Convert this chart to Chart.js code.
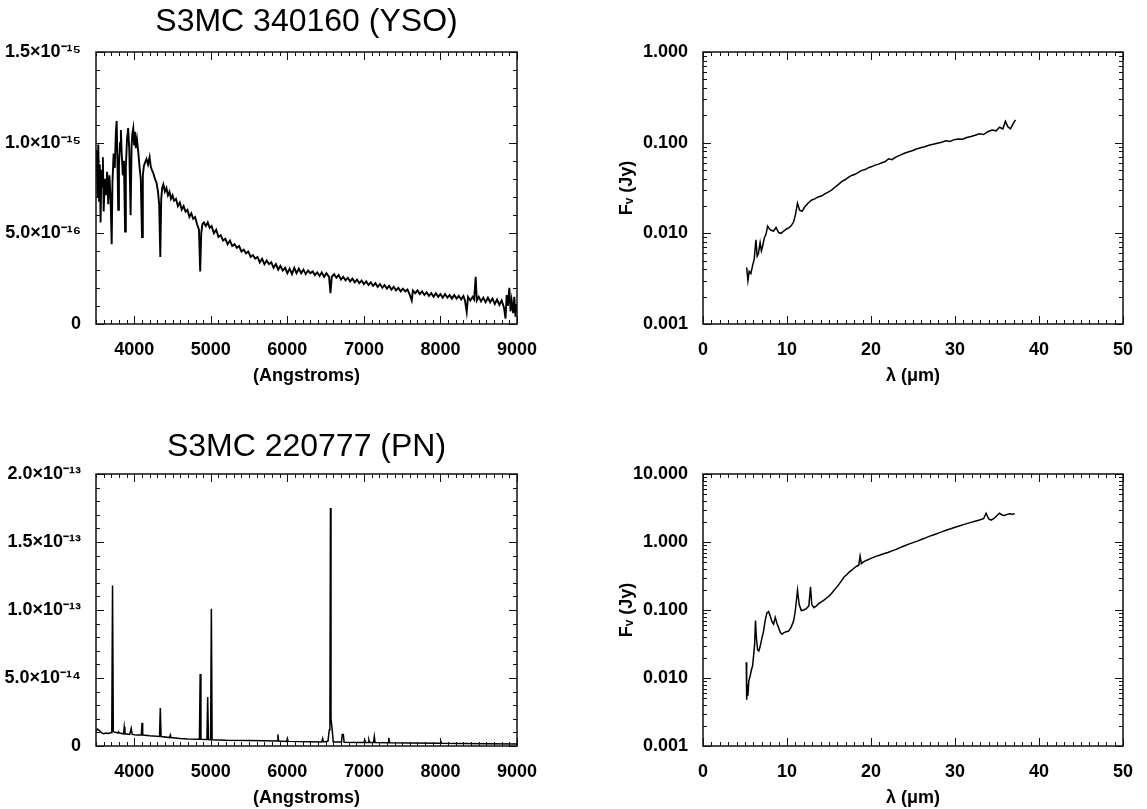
<!DOCTYPE html>
<html>
<head>
<meta charset="utf-8">
<title>S3MC 340160 / S3MC 220777 spectra</title>
<script src="https://cdn.jsdelivr.net/npm/chart.js@4/dist/chart.umd.min.js"></script>
<style>
  html, body { margin: 0; padding: 0; background: #fff; }
  #page { position: relative; width: 1147px; height: 809px; overflow: hidden; }
  #page canvas { position: absolute; }
</style>
</head>
<body>
<div id="page">
  <canvas id="yso-opt" width="560" height="400" style="left:0;top:0"></canvas>
  <canvas id="yso-ir" width="587" height="400" style="left:560px;top:0"></canvas>
  <canvas id="pn-opt" width="560" height="409" style="left:0;top:400px"></canvas>
  <canvas id="pn-ir" width="587" height="409" style="left:560px;top:400px"></canvas>
</div>
<script>
/* ── Data ─────────────────────────────────────────────────────────────────
 * Optical fluxes are kept in scaled units (YSO: 1e-16, PN: 1e-14),
 * infrared fluxes in Jy, wavelengths in Angstroms / microns.
 * ──────────────────────────────────────────────────────────────────────── */

// S3MC 340160 (YSO), optical spectrum
var YSO_OPT_WAVE = [
  3500, 3510, 3520, 3530, 3540, 3550, 3560, 3570, 3580, 3590,
  3600, 3615, 3630, 3645, 3660, 3675, 3690, 3705, 3715, 3730,
  3745, 3760, 3770, 3780, 3790, 3800, 3815, 3825, 3835, 3850,
  3865, 3880, 3890, 3905, 3920, 3935, 3952, 3965, 3975, 3987,
  3998, 4009, 4020, 4035, 4052, 4070, 4085, 4101, 4112, 4125,
  4140, 4160, 4180, 4200, 4215, 4230, 4250, 4270, 4290, 4310,
  4325, 4340, 4352, 4365, 4380, 4400, 4420, 4440, 4460, 4480,
  4500, 4520, 4545, 4570, 4595, 4620, 4645, 4670, 4695, 4720,
  4745, 4770, 4795, 4820, 4845, 4861, 4875, 4890, 4910, 4935,
  4960, 4985, 5010, 5040, 5070, 5100, 5130, 5160, 5190, 5220,
  5250, 5280, 5310, 5340, 5370, 5400, 5430, 5460, 5490, 5520,
  5550, 5580, 5610, 5640, 5670, 5700, 5730, 5760, 5790, 5820,
  5850, 5880, 5910, 5940, 5970, 6000, 6030, 6060, 6090, 6120,
  6150, 6180, 6210, 6240, 6270, 6300, 6330, 6360, 6390, 6420,
  6450, 6480, 6510, 6545, 6563, 6580, 6610, 6640, 6670, 6700,
  6730, 6760, 6790, 6820, 6850, 6880, 6910, 6940, 6970, 7000,
  7030, 7060, 7090, 7120, 7150, 7180, 7210, 7240, 7270, 7300,
  7330, 7360, 7390, 7420, 7450, 7480, 7510, 7540, 7570, 7600,
  7625, 7640, 7670, 7700, 7730, 7760, 7790, 7820, 7850, 7880,
  7910, 7940, 7970, 8000, 8030, 8060, 8090, 8120, 8150, 8180,
  8210, 8240, 8270, 8300, 8320, 8343, 8360, 8390, 8420, 8440,
  8460, 8475, 8500, 8530, 8560, 8590, 8620, 8650, 8680, 8710,
  8740, 8770, 8800, 8830, 8850, 8865, 8880, 8900, 8915, 8930,
  8950, 8965, 8980, 8995
];
var YSO_OPT_FLUX = [
  8.2, 9.6, 7.0, 9.9, 6.8, 8.8, 5.6, 8.5, 7.6, 9.2,
  6.2, 8.0, 7.1, 8.4, 6.6, 8.2, 7.0, 4.4, 7.8, 9.4,
  8.6, 10.6, 11.2, 9.0, 6.3, 8.8, 10.0, 10.7, 9.5, 8.2,
  9.0, 5.1, 8.6, 10.2, 10.8, 9.6, 6.0, 9.8, 10.5, 10.8,
  9.9, 10.6, 9.7, 10.2, 9.5, 8.6, 8.0, 4.8, 8.2, 8.7,
  8.9, 9.1, 8.8, 9.2, 8.7, 8.5, 8.3, 8.0, 7.8, 7.3,
  6.6, 3.7, 6.9, 7.5, 7.7, 7.3, 7.5, 7.1, 7.3, 6.9,
  7.1, 6.8, 6.9, 6.5, 6.7, 6.3, 6.5, 6.2, 6.3, 5.9,
  6.1, 5.8, 5.9, 5.5, 5.2, 2.9, 5.0, 5.5, 5.6, 5.4,
  5.6, 5.3, 5.4, 5.0, 5.2, 4.8, 4.9, 4.6, 4.7, 4.4,
  4.6, 4.3, 4.4, 4.2, 4.3, 4.0, 4.1, 3.9, 4.0, 3.7,
  3.8, 3.6, 3.7, 3.4, 3.6, 3.3, 3.5, 3.3, 3.4, 3.1,
  3.3, 3.0, 3.2, 2.95, 3.1, 2.8, 3.05, 2.75, 3.1, 2.8,
  3.05, 2.8, 3.0, 2.75, 2.95, 2.8, 2.9, 2.7, 2.85, 2.65,
  2.85, 2.6, 2.8, 2.6, 1.7, 2.6, 2.75, 2.55, 2.7, 2.45,
  2.6, 2.4, 2.55, 2.35, 2.5, 2.3, 2.45, 2.25, 2.4, 2.2,
  2.35, 2.15, 2.3, 2.1, 2.25, 2.05, 2.2, 2.0, 2.15, 1.95,
  2.1, 1.9, 2.05, 1.85, 2.0, 1.8, 1.95, 1.8, 1.9, 1.6,
  1.3, 1.85, 1.7, 1.85, 1.65, 1.8, 1.6, 1.75, 1.55, 1.7,
  1.5, 1.7, 1.5, 1.65, 1.45, 1.65, 1.45, 1.6, 1.4, 1.6,
  1.4, 1.55, 1.35, 1.55, 1.3, 0.66, 1.5, 1.3, 1.5, 1.35,
  2.6, 1.3, 1.5, 1.25, 1.45, 1.2, 1.45, 1.2, 1.4, 1.1,
  1.35, 1.05, 1.3, 0.9, 0.3, 1.6, 1.0, 2.0, 0.7, 1.3,
  0.6, 1.5, 0.4, 1.1
];

// S3MC 340160 (YSO), infrared spectrum
var YSO_IR_WAVE = [
  5.2, 5.35, 5.5, 5.7, 5.9, 6.1, 6.3, 6.45, 6.6, 6.8,
  6.95, 7.1, 7.3, 7.5, 7.7, 7.9, 8.1, 8.4, 8.7, 9.0,
  9.3, 9.6, 9.9, 10.2, 10.5, 10.8, 11.0, 11.25, 11.5, 11.8,
  12.1, 12.5, 12.9, 13.3, 13.7, 14.1, 14.5, 14.9, 15.3, 15.7,
  16.1, 16.5, 16.9, 17.3, 17.7, 18.1, 18.5, 18.9, 19.3, 19.7,
  20.1, 20.5, 20.9, 21.3, 21.7, 22.1, 22.5, 22.9, 23.4, 23.9,
  24.4, 24.9, 25.4, 25.9, 26.4, 26.9, 27.4, 27.9, 28.4, 28.9,
  29.4, 29.9, 30.4, 30.9, 31.4, 31.9, 32.4, 32.9, 33.4, 33.9,
  34.4, 34.9, 35.3, 35.7, 36.0, 36.3, 36.6, 36.9, 37.2
];
var YSO_IR_FLUX = [
  0.0042, 0.0030, 0.0038, 0.0036, 0.0044, 0.0052, 0.0085, 0.0056, 0.0060, 0.0079,
  0.0064, 0.0072, 0.0089, 0.0098, 0.0120, 0.0112, 0.0108, 0.0106, 0.0116, 0.0102,
  0.0100, 0.0106, 0.0111, 0.0115, 0.0121, 0.0135, 0.0160, 0.0215, 0.0180, 0.0175,
  0.0195, 0.0215, 0.0232, 0.0240, 0.0252, 0.0258, 0.0272, 0.0285, 0.0300, 0.0322,
  0.0345, 0.0372, 0.0390, 0.0415, 0.0435, 0.0448, 0.0470, 0.0495, 0.0505, 0.0530,
  0.0545, 0.0565, 0.0580, 0.0600, 0.0620, 0.0665, 0.0650, 0.0690, 0.0725, 0.0760,
  0.0790, 0.0815, 0.0850, 0.0880, 0.0900, 0.0935, 0.0960, 0.0985, 0.1010, 0.1050,
  0.1030, 0.1080, 0.1100, 0.1090, 0.1140, 0.1170, 0.1210, 0.1250, 0.1230, 0.1320,
  0.1380, 0.1350, 0.1480, 0.1420, 0.1720, 0.1500, 0.1420, 0.1600, 0.1780
];

// S3MC 220777 (PN), optical spectrum
var PN_OPT_WAVE = [
  3500, 3520, 3540, 3560, 3580, 3600, 3630, 3660, 3690, 3706,
  3716, 3726, 3760, 3785, 3795, 3805, 3860, 3869, 3878, 3940,
  3960, 3972, 4030, 4092, 4101, 4110, 4200, 4330, 4340, 4350,
  4462, 4471, 4480, 4600, 4700, 4851, 4861, 4871, 4949, 4959,
  4969, 4997, 5007, 5017, 5200, 5500, 5700, 5866, 5876, 5886,
  5990, 6000, 6010, 6300, 6450, 6461, 6472, 6530, 6548, 6556,
  6563, 6570, 6584, 6600, 6707, 6717, 6731, 6741, 7000, 7010,
  7020, 7060, 7065, 7075, 7126, 7136, 7146, 7315, 7325, 7335,
  7600, 7996, 8006, 8016, 8300, 8600, 9000
];
var PN_OPT_FLUX = [
  1.10, 1.25, 1.15, 1.05, 0.95, 0.90, 0.95, 0.92, 0.98, 0.98,
  11.8, 1.05, 1.00, 0.95, 1.05, 0.95, 0.90, 1.40, 0.90, 0.85,
  1.30, 0.85, 0.80, 0.80, 1.70, 0.80, 0.75, 0.70, 2.80, 0.70,
  0.62, 0.80, 0.62, 0.55, 0.52, 0.50, 5.30, 0.50, 0.48, 3.60,
  0.48, 0.47, 10.1, 0.46, 0.42, 0.40, 0.38, 0.36, 0.85, 0.36,
  0.34, 0.55, 0.34, 0.32, 0.30, 0.55, 0.30, 0.35, 1.20, 2.00,
  17.5, 2.00, 1.30, 0.30, 0.30, 0.85, 0.85, 0.28, 0.26, 0.45,
  0.26, 0.26, 0.45, 0.26, 0.26, 0.70, 0.25, 0.24, 0.60, 0.24,
  0.22, 0.20, 0.32, 0.20, 0.18, 0.16, 0.14
];

// S3MC 220777 (PN), infrared spectrum
var PN_IR_WAVE = [
  5.15, 5.2, 5.28, 5.35, 5.45, 5.6, 5.75, 5.9, 6.05, 6.15,
  6.25, 6.35, 6.5, 6.65, 6.8, 7.0, 7.2, 7.4, 7.6, 7.8,
  8.0, 8.2, 8.4, 8.6, 8.8, 9.0, 9.2, 9.4, 9.6, 9.9,
  10.2, 10.5, 10.8, 11.0, 11.25, 11.45, 11.7, 12.0, 12.3, 12.6,
  12.8, 12.95, 13.2, 13.5, 13.8, 14.1, 14.4, 14.7, 15.0, 15.3,
  15.6, 15.9, 16.2, 16.5, 16.8, 17.1, 17.4, 17.7, 18.0, 18.3,
  18.55, 18.7, 18.85, 19.1, 19.5, 20.0, 20.5, 21.0, 21.5, 22.0,
  22.5, 23.0, 23.5, 24.0, 24.5, 25.0, 25.5, 26.0, 26.5, 27.0,
  27.5, 28.0, 28.5, 29.0, 29.5, 30.0, 30.5, 31.0, 31.5, 32.0,
  32.5, 33.0, 33.4, 33.7, 34.0, 34.3, 34.6, 35.0, 35.3, 35.6,
  35.9, 36.2, 36.5, 36.8, 37.1
];
var PN_IR_FLUX = [
  0.0170, 0.0048, 0.0080, 0.0055, 0.0090, 0.0105, 0.0130, 0.0150, 0.0230, 0.0320,
  0.0700, 0.0400, 0.0260, 0.0250, 0.0290, 0.0380, 0.0480, 0.0700, 0.0900, 0.0950,
  0.0820, 0.0680, 0.0620, 0.0780, 0.0640, 0.0550, 0.0470, 0.0440, 0.0460, 0.0480,
  0.0490, 0.0560, 0.0700, 0.1000, 0.1950, 0.1200, 0.0980, 0.1000, 0.1050, 0.1150,
  0.2200, 0.1200, 0.1080, 0.1150, 0.1250, 0.1320, 0.1400, 0.1500, 0.1600, 0.1750,
  0.1950, 0.2150, 0.2400, 0.2700, 0.3050, 0.3300, 0.3600, 0.3850, 0.4150, 0.4400,
  0.4600, 0.6200, 0.4800, 0.5100, 0.5400, 0.5750, 0.6100, 0.6400, 0.6700, 0.7000,
  0.7400, 0.7800, 0.8300, 0.8800, 0.9300, 0.9800, 1.0300, 1.0900, 1.1500, 1.2200,
  1.2800, 1.3500, 1.4200, 1.5000, 1.5700, 1.6500, 1.7200, 1.8000, 1.8800, 1.9600,
  2.0400, 2.1200, 2.2000, 2.6500, 2.2000, 2.1000, 2.2000, 2.4500, 2.6500, 2.5000,
  2.4500, 2.5500, 2.6000, 2.5500, 2.6000
];

// Axis ticks and their labels
var OPT_X_TICKS = [4000, 5000, 6000, 7000, 8000, 9000];
var IR_X_TICKS = [0, 10, 20, 30, 40, 50];
var YSO_OPT_Y_TICKS = [0, 5, 10, 15];
var YSO_OPT_Y_LABELS = ['0', '5.0×10⁻¹⁶', '1.0×10⁻¹⁵', '1.5×10⁻¹⁵'];
var PN_OPT_Y_TICKS = [0, 5, 10, 15, 20];
var PN_OPT_Y_LABELS = ['0', '5.0×10⁻¹⁴', '1.0×10⁻¹³', '1.5×10⁻¹³', '2.0×10⁻¹³'];
var YSO_IR_Y_TICKS = [0.001, 0.01, 0.1, 1];
var YSO_IR_Y_LABELS = ['0.001', '0.010', '0.100', '1.000'];
var PN_IR_Y_TICKS = [0.001, 0.01, 0.1, 1, 10];
var PN_IR_Y_LABELS = ['0.001', '0.010', '0.100', '1.000', '10.000'];

var FONT = "'Liberation Sans', Arial, Helvetica, sans-serif";

/* IDL-style box: frame on all four sides with inward major/minor ticks */
var idlFrame = {
  id: 'idlFrame',
  afterDraw: function (chart, args, opts) {
    var ctx = chart.ctx, a = chart.chartArea;
    var xs = chart.scales.x, ys = chart.scales.y;

    function minorValues(scale, step) {
      var out = [], v;
      if (scale.type === 'logarithmic') {
        for (var d = scale.min; d < scale.max * 0.999; d *= 10) {
          for (var k = 2; k <= 9; k++) out.push(d * k);
        }
      } else {
        for (v = Math.ceil(scale.min / step) * step; v <= scale.max + 1e-9; v += step) out.push(v);
      }
      return out;
    }

    ctx.save();
    ctx.strokeStyle = '#111';
    ctx.lineWidth = 1;
    ctx.beginPath();
    minorValues(xs, opts.xMinor).forEach(function (v) {
      var px = Math.round(xs.getPixelForValue(v)) + 0.5;
      ctx.moveTo(px, a.bottom); ctx.lineTo(px, a.bottom - 4);
      ctx.moveTo(px, a.top); ctx.lineTo(px, a.top + 4);
    });
    xs.ticks.forEach(function (t) {
      var px = Math.round(xs.getPixelForValue(t.value)) + 0.5;
      ctx.moveTo(px, a.bottom); ctx.lineTo(px, a.bottom - 8);
      ctx.moveTo(px, a.top); ctx.lineTo(px, a.top + 8);
    });
    minorValues(ys, opts.yMinor).forEach(function (v) {
      var py = Math.round(ys.getPixelForValue(v)) + 0.5;
      ctx.moveTo(a.left, py); ctx.lineTo(a.left + 4, py);
      ctx.moveTo(a.right, py); ctx.lineTo(a.right - 4, py);
    });
    ys.ticks.forEach(function (t) {
      var py = Math.round(ys.getPixelForValue(t.value)) + 0.5;
      ctx.moveTo(a.left, py); ctx.lineTo(a.left + 8, py);
      ctx.moveTo(a.right, py); ctx.lineTo(a.right - 8, py);
    });
    ctx.stroke();
    ctx.lineWidth = 1.5;
    ctx.strokeRect(a.left, a.top, a.right - a.left, a.bottom - a.top);
    ctx.restore();
  }
};

function pairs(xv, yv) {
  return xv.map(function (x, i) { return { x: x, y: yv[i] }; });
}

function makeChart(id, o) {
  var tickFont = { family: FONT, size: 18, weight: 'bold' };
  return new Chart(document.getElementById(id), {
    type: 'line',
    data: {
      datasets: [{
        data: pairs(o.xs, o.ys),
        borderColor: '#000',
        borderWidth: o.lineWidth || 1.5,
        pointRadius: 0,
        tension: 0,
        fill: false
      }]
    },
    options: {
      responsive: false,
      animation: false,
      devicePixelRatio: 1,
      layout: { padding: o.pad },
      events: [],
      plugins: {
        legend: { display: false },
        tooltip: { enabled: false },
        title: {
          display: !!o.title,
          text: o.title || '',
          fullSize: false,
          color: '#000',
          font: { family: FONT, size: 32, weight: 'normal', lineHeight: 1 },
          padding: o.titlePad || 0
        },
        idlFrame: { xMinor: o.xMinor, yMinor: o.yMinor }
      },
      scales: {
        x: {
          type: 'linear',
          min: o.xMin,
          max: o.xMax,
          afterBuildTicks: function (s) { s.ticks = o.xTicks.map(function (v) { return { value: v }; }); },
          afterFit: function (s) { s.height = o.xHeight; },
          grid: { display: false },
          border: { display: false },
          ticks: {
            color: '#000', font: tickFont, padding: 7,
            autoSkip: false, maxRotation: 0, minRotation: 0,
            callback: function (v) { return String(v); }
          },
          title: {
            display: true, text: o.xTitle, color: '#000', font: tickFont,
            padding: { top: 0, bottom: o.xTitlePad }
          }
        },
        y: {
          type: o.yType,
          min: o.yMin,
          max: o.yMax,
          afterBuildTicks: function (s) { s.ticks = o.yTicks.map(function (v) { return { value: v }; }); },
          afterFit: function (s) { s.width = o.yWidth; },
          grid: { display: false },
          border: { display: false },
          ticks: {
            color: '#000', font: tickFont, padding: 7, autoSkip: false,
            callback: function (v, i) { return o.yLabels[i]; }
          },
          title: {
            display: !!o.yTitle, text: o.yTitle || '', color: '#000', font: tickFont,
            padding: { top: o.yTitlePad || 0, bottom: 0 }
          }
        }
      }
    },
    plugins: [idlFrame]
  });
}

makeChart('yso-opt', {
  title: 'S3MC 340160 (YSO)', titlePad: { top: 6, bottom: 14 },
  xs: YSO_OPT_WAVE, ys: YSO_OPT_FLUX, lineWidth: 1.9,
  pad: { left: 0, right: 43, top: 0, bottom: 0 },
  xMin: 3500, xMax: 9000, xTicks: OPT_X_TICKS, xMinor: 100,
  xTitle: '(Angstroms)', xHeight: 76, xTitlePad: 13,
  yType: 'linear', yMin: 0, yMax: 15, yTicks: YSO_OPT_Y_TICKS, yLabels: YSO_OPT_Y_LABELS, yMinor: 1,
  yWidth: 96
});

makeChart('yso-ir', {
  xs: YSO_IR_WAVE, ys: YSO_IR_FLUX,
  pad: { left: 0, right: 24, top: 52, bottom: 0 },
  xMin: 0, xMax: 50, xTicks: IR_X_TICKS, xMinor: 1,
  xTitle: 'λ (μm)', xHeight: 76, xTitlePad: 13,
  yType: 'logarithmic', yMin: 0.001, yMax: 1, yTicks: YSO_IR_Y_TICKS, yLabels: YSO_IR_Y_LABELS,
  yTitle: 'Fᵥ (Jy)', yTitlePad: 56, yWidth: 143
});

makeChart('pn-opt', {
  title: 'S3MC 220777 (PN)', titlePad: { top: 31, bottom: 11 },
  xs: PN_OPT_WAVE, ys: PN_OPT_FLUX,
  pad: { left: 0, right: 43, top: 0, bottom: 0 },
  xMin: 3500, xMax: 9000, xTicks: OPT_X_TICKS, xMinor: 100,
  xTitle: '(Angstroms)', xHeight: 63, xTitlePad: 0,
  yType: 'linear', yMin: 0, yMax: 20, yTicks: PN_OPT_Y_TICKS, yLabels: PN_OPT_Y_LABELS, yMinor: 1,
  yWidth: 96
});

makeChart('pn-ir', {
  xs: PN_IR_WAVE, ys: PN_IR_FLUX,
  pad: { left: 0, right: 24, top: 74, bottom: 0 },
  xMin: 0, xMax: 50, xTicks: IR_X_TICKS, xMinor: 1,
  xTitle: 'λ (μm)', xHeight: 63, xTitlePad: 0,
  yType: 'logarithmic', yMin: 0.001, yMax: 10, yTicks: PN_IR_Y_TICKS, yLabels: PN_IR_Y_LABELS,
  yTitle: 'Fᵥ (Jy)', yTitlePad: 56, yWidth: 143
});
</script>
</body>
</html>
